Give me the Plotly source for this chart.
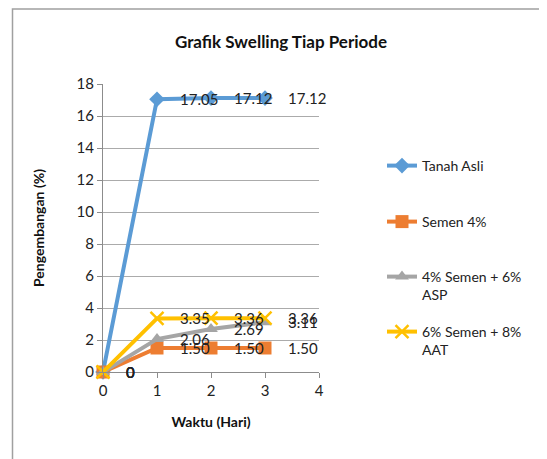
import plotly.graph_objects as go

days = [0, 1, 2, 3]
tanah_asli = [0, 17.05, 17.12, 17.12]
semen_4 = [0, 1.50, 1.50, 1.50]
semen4_asp6 = [0, 2.06, 2.69, 3.11]
semen6_aat8 = [0, 3.35, 3.36, 3.36]

series = [
    ("Tanah Asli", tanah_asli, "#5B9BD5", "diamond", 12, "legend"),
    ("Semen 4%", semen_4, "#ED7D31", "square", 13, "legend2"),
    ("4% Semen + 6%<br>ASP", semen4_asp6, "#A5A5A5", "triangle-up", 12, "legend3"),
    ("6% Semen + 8%<br>AAT", semen6_aat8, "#FFC000", "x-thin-open", 13, "legend4"),
]

FONT = "Lato, 'Open Sans', sans-serif"
fig = go.Figure()
annotations = []
for name, vals, color, sym, size, lg in series:
    fig.add_trace(go.Scatter(
        x=days, y=vals, name=name, mode="lines+markers",
        line=dict(color=color, width=4),
        marker=dict(symbol=sym, size=size, color=color,
                    line=dict(color=color, width=2.5 if sym.startswith("x") else 0)),
        legend=lg, cliponaxis=False,
    ))
    for xv, yv in zip(days, vals):
        annotations.append(dict(
            x=xv, y=yv, xref="x", yref="y", showarrow=False,
            text="0" if yv == 0 else f"{yv:.2f}",
            xanchor="left", yanchor="middle", xshift=21,
            font=dict(family=FONT, size=15, color="#222"),
        ))

# page offset of the figure (default body margin)
OFF = 8
W, H = 547 - OFF, 459 - OFF

def px_x(px):
    return (px - 103) / 216.0

def px_y(py):
    return (372 - py) / 288.0

leg_common = dict(xanchor="left", yanchor="top", bgcolor="rgba(0,0,0,0)",
                  font=dict(family=FONT, size=14, color="#222"), valign="top",
                  itemwidth=30)
lay = dict(
    width=W, height=H,
    margin=dict(l=103 - OFF, r=547 - 319, t=84 - OFF, b=459 - 372),
    paper_bgcolor="white", plot_bgcolor="white",
    title=dict(text="<b>Grafik Swelling Tiap Periode</b>", x=(281 - OFF) / W,
               xanchor="center", y=1 - (42 - OFF) / H, yanchor="middle",
               font=dict(family=FONT, size=17, color="#111")),
    xaxis=dict(range=[0, 4], dtick=1, showgrid=False, showline=True,
               linecolor="#8c8c8c", linewidth=1, ticks="outside", ticklen=5,
               tickcolor="#8c8c8c", zeroline=False,
               tickfont=dict(family=FONT, size=15, color="#222"),
               title=dict(text="<b>Waktu (Hari)</b>", standoff=19,
                          font=dict(family=FONT, size=14, color="#111"))),
    yaxis=dict(range=[0, 18], dtick=2, showgrid=True, gridcolor="#ababab",
               gridwidth=1, showline=True, linecolor="#8c8c8c", linewidth=1,
               ticks="outside", ticklen=5, tickcolor="#8c8c8c", zeroline=False,
               tickfont=dict(family=FONT, size=15, color="#222"),
               title=dict(text="<b>Pengembangan (%)</b>", standoff=28,
                          font=dict(family=FONT, size=14, color="#111"))),
    annotations=annotations,
    showlegend=True,
    shapes=[dict(type="rect", xref="paper", yref="paper",
                 x0=px_x(12.5), x1=px_x(580), y0=px_y(9), y1=px_y(480),
                 line=dict(color="#a0a0a0", width=1.5), layer="below")],
)
legend_pos = {"legend": 166, "legend2": 222, "legend3": 277, "legend4": 332}
for k, py in legend_pos.items():
    lay[k] = dict(leg_common, x=px_x(382), y=px_y(py - 16))
fig.update_layout(**lay)
fig.write_html("out.html")
